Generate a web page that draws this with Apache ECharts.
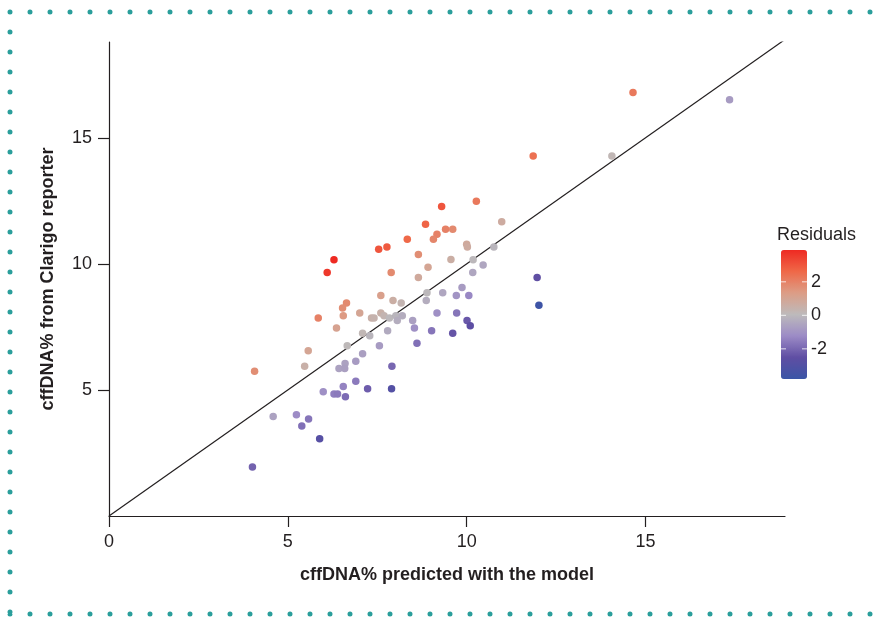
<!DOCTYPE html>
<html>
<head>
<meta charset="utf-8">
<title>cffDNA% scatter</title>
<script src="https://cdn.jsdelivr.net/npm/echarts@6/dist/echarts.min.js"></script>
<style>
    html, body { margin: 0; padding: 0; background: #fff; }
    #wrap { position: relative; width: 888px; height: 617px; }
    #main { position: absolute; left: 0; top: 0; width: 888px; height: 617px; }
    #frame { position: absolute; left: 0; top: 0; pointer-events: none; }
</style>
</head>
<body>
<div id="wrap">
    <div id="main"></div>
    <svg id="frame" width="888" height="617">
        <path d="M10,12 H878 M10,12 V614 M10,614 H878" fill="none" stroke="#2a9e9b"
              stroke-width="5" stroke-linecap="round" stroke-dasharray="0 20"/>
    </svg>
</div>
<script>
// predicted (model) vs measured (Clarigo reporter), residual colour
let predicted = [14.65, 17.35, 11.86, 14.06, 10.27, 9.30, 10.98, 8.85, 9.41, 9.61,
    9.17, 9.07, 8.34, 7.77, 7.54, 10.00, 10.02, 10.76, 8.65, 6.29,
    10.18, 9.56, 8.92, 10.46, 6.10, 7.89, 10.17, 8.65, 11.97, 9.87,
    8.89, 9.33, 9.71, 10.06, 7.60, 7.94, 8.17, 8.87, 6.64, 6.53,
    12.02, 7.01, 6.55, 5.85, 7.60, 7.34, 7.41, 7.69, 7.84, 8.02,
    8.20, 8.06, 9.17, 9.72, 8.49, 10.01, 10.10, 6.36, 8.54, 9.02,
    9.61, 7.79, 7.09, 7.29, 8.61, 7.56, 6.66, 5.57, 7.09, 6.90,
    6.60, 6.43, 6.59, 5.47, 7.91, 4.07, 6.90, 6.55, 7.23, 7.90,
    5.99, 6.29, 6.39, 6.61, 4.59, 5.24, 5.58, 5.39, 5.89, 4.01];
let measured = [16.80, 16.51, 14.28, 14.28, 12.48, 12.28, 11.67, 11.57, 11.37, 11.37,
    11.17, 10.98, 10.98, 10.67, 10.58, 10.78, 10.67, 10.67, 10.37, 10.16,
    10.16, 10.17, 9.87, 9.96, 9.66, 9.66, 9.66, 9.46, 9.46, 9.06,
    8.85, 8.85, 8.75, 8.75, 8.75, 8.55, 8.45, 8.55, 8.45, 8.25,
    8.36, 8.05, 7.94, 7.85, 8.05, 7.85, 7.85, 7.94, 7.85, 7.94,
    7.94, 7.75, 8.05, 8.05, 7.75, 7.75, 7.55, 7.46, 7.46, 7.35,
    7.25, 7.35, 7.25, 7.15, 6.85, 6.75, 6.75, 6.55, 6.44, 6.14,
    6.05, 5.85, 5.85, 5.94, 5.94, 5.74, 5.34, 5.14, 5.05, 5.05,
    4.93, 4.84, 4.84, 4.73, 3.95, 4.02, 3.85, 3.57, 3.06, 1.94];
let residuals = [2.2, -0.8, 2.4, 0.2, 2.2, 3.0, 0.7, 2.7, 2.0, 1.8,
    2.0, 1.9, 2.6, 2.9, 3.0, 0.8, 0.7, -0.1, 1.7, 3.9,
    0.0, 0.6, 1.0, -0.5, 3.6, 1.8, -0.5, 0.8, -2.5, -0.8,
    0.0, -0.5, -1.0, -1.3, 1.2, 0.6, 0.3, -0.3, 1.8, 1.7,
    -3.7, 1.0, 1.4, 2.0, 0.5, 0.5, 0.4, 0.3, 0.0, -0.1,
    -0.3, -0.3, -1.1, -1.7, -0.7, -2.3, -2.6, 1.1, -1.1, -1.7,
    -2.4, -0.4, 0.2, -0.1, -1.8, -0.8, 0.1, 1.0, -0.7, -0.8,
    -0.6, -0.6, -0.7, 0.5, -2.0, 1.7, -1.6, -1.4, -2.2, -2.9,
    -1.1, -1.5, -1.6, -1.9, -0.6, -1.2, -1.7, -1.8, -2.8, -2.1];
let identityLine = [[0, 0], [18.9, 18.9]];
let axisTicks = [0, 5, 10, 15];
let yTicks = [5, 10, 15];
let legendTicks = [2, 0, -2];

let resMin = -3.8, resMax = 3.9;
let barLeft = 781, barTop = 250, barW = 26, barH = 129;
let font = '"Liberation Sans", Arial, Helvetica, sans-serif';

let points = [];
for (let i = 0; i < predicted.length; i++) {
    points.push([predicted[i], measured[i], residuals[i]]);
}

// colour bar labels and the small white marks on it
let legendGraphics = [{
    type: 'text',
    left: 777, top: 226,
    style: { text: 'Residuals', font: '18px ' + font, fill: '#231f20' }
}];
legendTicks.forEach(v => {
    let y = barTop + (resMax - v) / (resMax - resMin) * barH;
    legendGraphics.push({
        type: 'text', x: 811, y: y,
        style: { text: String(v), font: '18px ' + font, fill: '#231f20', verticalAlign: 'middle' }
    });
    legendGraphics.push({
        type: 'line', shape: { x1: barLeft, y1: y, x2: barLeft + 5, y2: y },
        style: { stroke: '#fff', lineWidth: 1, opacity: 0.8 }, z: 100
    });
    legendGraphics.push({
        type: 'line', shape: { x1: barLeft + barW - 5, y1: y, x2: barLeft + barW, y2: y },
        style: { stroke: '#fff', lineWidth: 1, opacity: 0.8 }, z: 100
    });
});

let myChart = echarts.init(document.getElementById('main'), null, { renderer: 'canvas' });

let option = {
    backgroundColor: '#fff',
    animation: false,
    textStyle: { fontFamily: font },
    grid: { left: 109, right: 103, top: 42, bottom: 101, containLabel: false },
    xAxis: {
        type: 'value', min: 0, max: 18.9, interval: 5,
        name: 'cffDNA% predicted with the model',
        nameLocation: 'middle', nameGap: 50,
        nameTextStyle: { fontSize: 18, fontWeight: 'bold', color: '#231f20', fontFamily: font },
        splitLine: { show: false },
        axisLine: { lineStyle: { color: '#231f20', width: 1.2 } },
        axisTick: { length: 11, lineStyle: { color: '#231f20', width: 1.2 }, customValues: axisTicks },
        axisLabel: { fontSize: 18, color: '#231f20', margin: 17, customValues: axisTicks }
    },
    yAxis: {
        type: 'value', min: 0, max: 18.8, interval: 5,
        name: 'cffDNA% from Clarigo reporter',
        nameLocation: 'middle', nameGap: 52,
        nameTextStyle: { fontSize: 18, fontWeight: 'bold', color: '#231f20', fontFamily: font },
        splitLine: { show: false },
        axisLine: { lineStyle: { color: '#231f20', width: 1.2 } },
        axisTick: { length: 11, lineStyle: { color: '#231f20', width: 1.2 }, customValues: yTicks },
        axisLabel: { fontSize: 18, color: '#231f20', margin: 17, customValues: yTicks }
    },
    visualMap: {
        type: 'continuous',
        min: resMin, max: resMax,
        dimension: 2,
        seriesIndex: 0,
        left: barLeft, top: barTop,
        padding: 0,
        itemWidth: barW, itemHeight: barH,
        calculable: false,
        hoverLink: false,
        text: null,
        inRange: {
            color: ['#3b55a6', '#5f4ea3', '#9c8bc6', '#bdbabb', '#dc9d86', '#ef6848', '#ee2a22']
        }
    },
    graphic: legendGraphics,
    series: [
        {
            name: 'samples',
            type: 'scatter',
            symbolSize: 7.5,
            itemStyle: { opacity: 1 },
            data: points,
            z: 3
        },
        {
            name: 'identity',
            type: 'line',
            data: identityLine,
            symbol: 'none',
            silent: true,
            clip: true,
            lineStyle: { color: '#231f20', width: 1.2 },
            z: 2
        }
    ]
};

myChart.setOption(option);
</script>
</body>
</html>
